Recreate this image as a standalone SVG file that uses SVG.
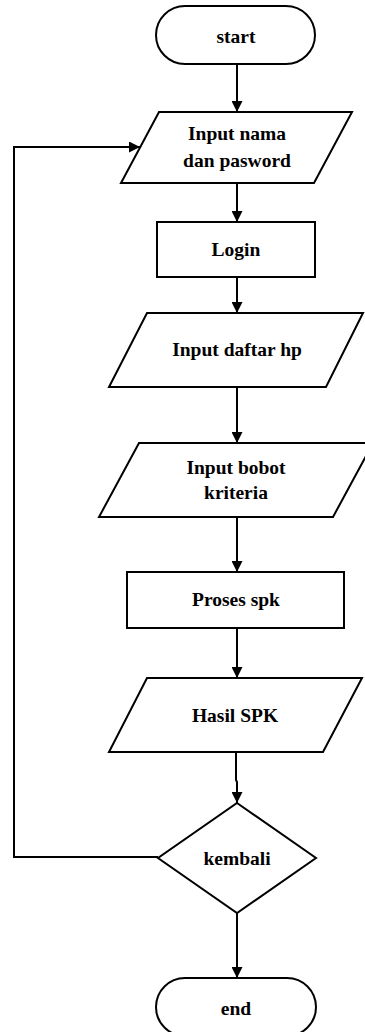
<svg xmlns="http://www.w3.org/2000/svg" width="365" height="1032" viewBox="0 0 365 1032">
<style>
.s{fill:#fff;stroke:#000;stroke-width:2;stroke-linejoin:miter}
.t{font-family:"Liberation Serif","Times New Roman",serif;font-weight:bold;font-size:19.5px;fill:#000;text-anchor:middle}
.c{fill:none;stroke:#000;stroke-width:2}
</style>
<defs>
<marker id="a" viewBox="0 0 10 10" refX="10" refY="5" markerWidth="12" markerHeight="11" markerUnits="userSpaceOnUse" orient="auto">
<path d="M0,0 L10,5 L0,10 z" fill="#000"/>
</marker>
</defs>
<rect width="365" height="1032" fill="#fff"/>
<g id="connectors">
<line class="c" x1="237" y1="64" x2="237" y2="112" marker-end="url(#a)"/>
<line class="c" x1="237" y1="183" x2="237" y2="222" marker-end="url(#a)"/>
<line class="c" x1="237" y1="277" x2="237" y2="313" marker-end="url(#a)"/>
<line class="c" x1="237" y1="387" x2="237" y2="443" marker-end="url(#a)"/>
<line class="c" x1="237" y1="517" x2="237" y2="572" marker-end="url(#a)"/>
<line class="c" x1="237" y1="628" x2="237" y2="678" marker-end="url(#a)"/>
<polyline class="c" points="236,752 236,780 237,782 237,803" marker-end="url(#a)"/>
<line class="c" x1="237" y1="913" x2="237" y2="978" marker-end="url(#a)"/>
<polyline class="c" points="158,857 14,857 14,147 140,147" marker-end="url(#a)"/>
</g>
<g id="start">
<rect class="s" x="156" y="6" width="159" height="58" rx="29" ry="29"/>
<text class="t" x="236" y="43">start</text>
</g>
<g id="input-nama">
<polygon class="s" points="159,112 352,112 314,183 121,183"/>
<text class="t" x="237" y="140">Input nama</text>
<text class="t" x="237" y="167">dan pasword</text>
</g>
<g id="login">
<rect class="s" x="157" y="222" width="158" height="55"/>
<text class="t" x="236" y="256">Login</text>
</g>
<g id="input-daftar">
<polygon class="s" points="147,313 363,313 326,387 109,387"/>
<text class="t" x="237" y="356">Input daftar hp</text>
</g>
<g id="input-bobot">
<polygon class="s" points="139,443 373,443 333,517 99,517"/>
<text class="t" x="236" y="474">Input bobot</text>
<text class="t" x="236" y="499">kriteria</text>
</g>
<g id="proses">
<rect class="s" x="127" y="572" width="217" height="56"/>
<text class="t" x="236" y="606">Proses spk</text>
</g>
<g id="hasil">
<polygon class="s" points="147,678 362,678 323,752 109,752"/>
<text class="t" x="235" y="722">Hasil SPK</text>
</g>
<g id="kembali">
<polygon class="s" points="237,803 316,858 237,913 158,858"/>
<text class="t" x="237" y="865">kembali</text>
</g>
<g id="end">
<rect class="s" x="156" y="978" width="160" height="58" rx="29" ry="29"/>
<text class="t" x="236" y="1015">end</text>
</g>
</svg>
